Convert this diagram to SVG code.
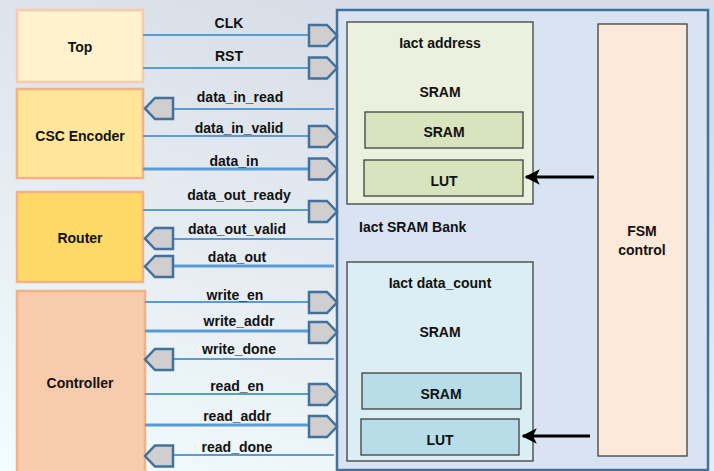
<svg xmlns="http://www.w3.org/2000/svg" width="714" height="471" viewBox="0 0 714 471">
  <defs>
    <linearGradient id="bg" x1="0" y1="1" x2="0.55" y2="0">
      <stop offset="0" stop-color="#F3FCFF"/>
      <stop offset="1" stop-color="#D6DCE5"/>
    </linearGradient>
    <marker id="ah" viewBox="0 0 10 10" refX="9" refY="5" markerWidth="4.8" markerHeight="4.8" markerUnits="strokeWidth" orient="auto">
      <path d="M0,0 L10,5 L0,10 L2.5,5 Z" fill="#000"/>
    </marker>
    <!-- port glyphs: input points right, output points left -->
    <polygon id="pin" points="0,-10.5 18,-10.5 28,0 18,10.5 0,10.5"/>
    <polygon id="pout" points="28,-10.5 10,-10.5 0,0 10,10.5 28,10.5"/>
  </defs>
  <style>
    text { font-family: "Liberation Sans", Arial, sans-serif; font-weight: bold; font-size: 14px; fill: #111; text-anchor: middle; }
    .wire { stroke: #5B9BD5; stroke-width: 1.8; fill: none; }
    .bus { stroke: #5B9BD5; stroke-width: 3.2; fill: none; }
    .port { fill: #D0CECE; stroke: #41719C; stroke-width: 2.5; stroke-linejoin: miter; }
    .blk { stroke: #404040; stroke-width: 1.3; }
    .arr { stroke: #000; stroke-width: 3.2; fill: none; }
  </style>

  <rect x="0" y="0" width="714" height="471" fill="url(#bg)"/>

  <!-- external blocks -->
  <g id="top">
    <rect x="17" y="10" width="126" height="72" fill="#FFF2CC" stroke="#F8CBAD" stroke-width="2.5"/>
    <text x="80" y="52">Top</text>
  </g>
  <g id="csc-encoder">
    <rect x="17" y="89" width="126" height="89" fill="#FFE699" stroke="#F4B183" stroke-width="2.5"/>
    <text x="80" y="141">CSC Encoder</text>
  </g>
  <g id="router">
    <rect x="17" y="192" width="126" height="90" fill="#FFD966" stroke="#F4B183" stroke-width="2.5"/>
    <text x="80" y="243">Router</text>
  </g>
  <g id="controller">
    <rect x="17" y="291" width="128" height="185" fill="#F8CBAD" stroke="#F4B183" stroke-width="2.5"/>
    <text x="80" y="388">Controller</text>
  </g>

  <!-- SRAM bank -->
  <g id="sram-bank">
    <rect x="337" y="10" width="371" height="460" fill="#DAE3F1" stroke="#41719C" stroke-width="2.5"/>
    <text x="359" y="232" style="text-anchor:start">Iact SRAM Bank</text>
  </g>
  <g id="iact-address">
    <rect x="347" y="22" width="186" height="182" fill="#EBF1DE" class="blk"/>
    <text x="440" y="48">Iact address</text>
    <text x="440" y="97">SRAM</text>
  </g>
  <g id="addr-sram">
    <rect x="365" y="112" width="158" height="36" fill="#D7E4BD" class="blk"/>
    <text x="444" y="137">SRAM</text>
  </g>
  <g id="addr-lut">
    <rect x="364" y="160" width="159" height="36" fill="#D7E4BD" class="blk"/>
    <text x="444" y="186">LUT</text>
  </g>
  <g id="iact-data-count">
    <rect x="347" y="262" width="186" height="199" fill="#DBEEF4" class="blk"/>
    <text x="440" y="288">Iact data_count</text>
    <text x="440" y="337">SRAM</text>
  </g>
  <g id="count-sram">
    <rect x="362" y="373" width="159" height="36" fill="#B7DEE8" class="blk"/>
    <text x="441" y="399">SRAM</text>
  </g>
  <g id="count-lut">
    <rect x="361" y="419" width="158" height="36" fill="#B7DEE8" class="blk"/>
    <text x="440" y="445">LUT</text>
  </g>
  <g id="fsm-control">
    <rect x="598" y="24" width="89" height="432" fill="#FDE9D9" class="blk"/>
    <text x="642" y="236">FSM</text>
    <text x="642" y="255">control</text>
  </g>

  <!-- signals between blocks and the bank -->
  <g id="connectors">
    <line class="wire" x1="143" y1="35" x2="310" y2="35"/>
    <use href="#pin" class="port" x="309" y="35.5"/>
    <text x="229" y="28">CLK</text>

    <line class="wire" x1="143" y1="68" x2="310" y2="68"/>
    <use href="#pin" class="port" x="309" y="68"/>
    <text x="229" y="61">RST</text>

    <line class="wire" x1="171" y1="109" x2="334" y2="109"/>
    <use href="#pout" class="port" x="145" y="108.5"/>
    <text x="240" y="102">data_in_read</text>

    <line class="wire" x1="143" y1="136" x2="310" y2="136"/>
    <use href="#pin" class="port" x="309" y="136.5"/>
    <text x="239" y="133">data_in_valid</text>

    <line class="bus" x1="143" y1="169" x2="310" y2="169"/>
    <use href="#pin" class="port" x="309" y="169"/>
    <text x="234" y="166">data_in</text>

    <line class="wire" x1="143" y1="210" x2="310" y2="210"/>
    <use href="#pin" class="port" x="309" y="211.5"/>
    <text x="239" y="200">data_out_ready</text>

    <line class="wire" x1="171" y1="239" x2="334" y2="239"/>
    <use href="#pout" class="port" x="145" y="238.5"/>
    <text x="237" y="234">data_out_valid</text>

    <line class="bus" x1="171" y1="266" x2="334" y2="266"/>
    <use href="#pout" class="port" x="145" y="266.5"/>
    <text x="237" y="262">data_out</text>

    <line class="wire" x1="145" y1="302" x2="310" y2="302"/>
    <use href="#pin" class="port" x="309" y="302.5"/>
    <text x="235" y="300">write_en</text>

    <line class="bus" x1="145" y1="331" x2="310" y2="331"/>
    <use href="#pin" class="port" x="309" y="332.5"/>
    <text x="239" y="326">write_addr</text>

    <line class="wire" x1="171" y1="359" x2="334" y2="359"/>
    <use href="#pout" class="port" x="145" y="359.5"/>
    <text x="239" y="354">write_done</text>

    <line class="wire" x1="145" y1="394" x2="310" y2="394"/>
    <use href="#pin" class="port" x="309" y="394.5"/>
    <text x="237" y="391">read_en</text>

    <line class="bus" x1="145" y1="425" x2="310" y2="425"/>
    <use href="#pin" class="port" x="309" y="426.5"/>
    <text x="237" y="421">read_addr</text>

    <line class="wire" x1="171" y1="455" x2="334" y2="455"/>
    <use href="#pout" class="port" x="145" y="456"/>
    <text x="237" y="452">read_done</text>

    <!-- FSM drives both LUTs -->
    <line class="arr" x1="594" y1="177" x2="526" y2="177" marker-end="url(#ah)"/>
    <line class="arr" x1="590" y1="436" x2="523" y2="436" marker-end="url(#ah)"/>
  </g>
</svg>
